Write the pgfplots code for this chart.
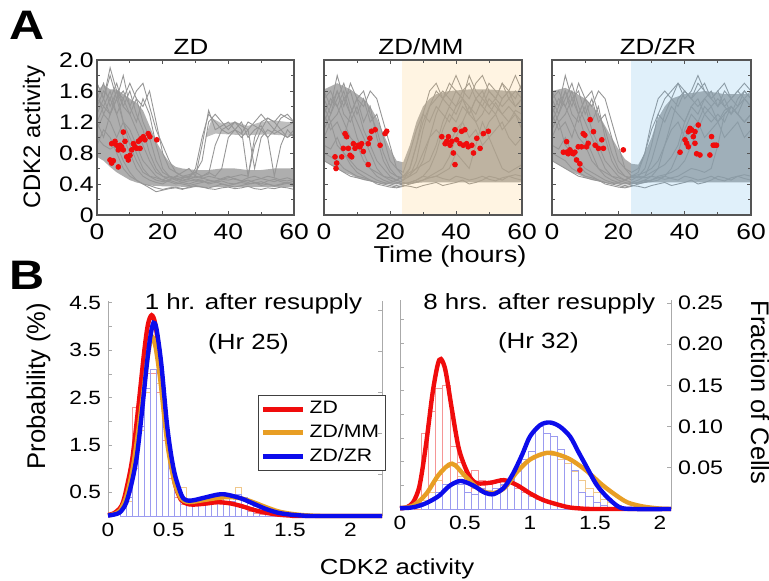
\documentclass[border=0pt]{standalone}
\usepackage{fontspec}
\setmainfont{Liberation Sans}[FakeStretch=1.18]
\newfontfamily\plainfont{Liberation Sans}
\usepackage{pgfplots}
\pgfplotsset{compat=1.18}

\definecolor{trace}{RGB}{150,150,150}
\definecolor{band}{RGB}{174,174,174}
\definecolor{cRed}{RGB}{240,12,12}
\definecolor{cOra}{RGB}{232,158,36}
\definecolor{cBlu}{RGB}{12,12,235}
\definecolor{hRed}{RGB}{245,150,150}
\definecolor{hOra}{RGB}{240,200,140}
\definecolor{hBlu}{RGB}{155,155,240}
\definecolor{frameA}{RGB}{85,85,85}
\definecolor{spineB}{RGB}{170,170,170}
\definecolor{shadeMM}{RGB}{255,200,110}
\definecolor{shadeZR}{RGB}{100,180,230}

\pgfplotsset{
  /pgf/number format/assume math mode=true,
  panelA/.style={
    scale only axis, height=77.5pt, anchor=south west,
    xmin=0, xmax=60, ymin=0, ymax=2,
    xtick={0,20,40,60}, minor xtick={10,30,50},
    ytick={0,0.4,0.8,1.2,1.6,2.0}, minor ytick={0.2,0.6,1.0,1.4,1.8},
    tick align=inside, major tick length=2.2pt, minor tick length=1.5pt,
    axis line style={frameA, line width=0.6pt},
    every tick/.style={frameA, line width=0.4pt},
    xticklabel style={font=\fontsize{11.2}{12}\selectfont, inner sep=1pt, yshift=-3pt},
    yticklabel style={font=\fontsize{10.5}{12}\selectfont, inner sep=1.5pt},
    xticklabels={0,20,40,60},
    yticklabels={},
    axis on top,
  },
  tr/.style={trace, line width=0.45pt},
  bandst/.style={draw=none, fill=band},
  dots/.style={only marks, mark=*, mark size=1.2pt, draw=cRed, fill=cRed},
  crv/.style={line width=2.2pt, smooth, tension=0.5},
  hist/.style={ybar interval, fill=none, line width=0.45pt, forget plot},
  panelB/.style={
    scale only axis, anchor=south west, clip=false,
    separate axis lines,
    every outer x axis line/.append style={draw=none},
    axis line style={spineB, line width=0.5pt},
    x tick style={draw=none},
    y tick style={spineB, line width=0.4pt},
    tick align=inside, major tick length=2.2pt, minor tick length=2.2pt,
    tick label style={font=\fontsize{9.6}{11}\selectfont},
    xtick={0,0.5,1,1.5,2}, xticklabels={0,0.5,1,1.5,2},
  },
}

\begin{document}
\begin{tikzpicture}
\path[use as bounding box] (0,0) rectangle (384.5pt,290.5pt);

% ================= PANEL A : ZD =================
\begin{axis}[panelA, at={(48.5pt,183pt)}, width=98.5pt,
  yticklabels={0,0.4,0.8,1.2,1.6,2.0}]
\addplot[bandst] coordinates {(0,1.6)(2,1.68)(4,1.62)(6,1.62)(8,1.56)(10,1.5)(12,1.45)(14,1.35)(16,1.15)(18,0.95)(20,0.8)(22,0.68)(24,0.62)(26,0.6)(30,0.58)(34,0.58)(38,0.6)(42,0.6)(46,0.58)(50,0.58)(54,0.6)(58,0.6)(60,0.6)(60,0.36)(50,0.36)(40,0.36)(30,0.36)(20,0.37)(16,0.38)(12,0.42)(10,0.45)(8,0.5)(6,0.55)(4,0.62)(2,0.7)(0,0.75)};
\addplot[draw=none, fill=band!80] coordinates {(33,1.0)(35,1.25)(38,1.18)(42,1.2)(46,1.15)(50,1.2)(54,1.22)(58,1.2)(60,1.2)(60,1.02)(52,1.04)(44,1.03)(36,1.05)};
\addplot[tr] coordinates {(0,1.5)(2,1.7)(4,1.4)(6,1.6)(8,1.2)(10,0.9)(12,0.7)(14,0.55)(16,0.5)(18,0.48)(20,0.45)(22,0.5)(24,0.47)(26,0.44)(28,0.46)(30,0.5)(32,0.48)(34,0.45)(36,0.43)(38,0.47)(40,0.5)(42,0.46)(44,0.44)(46,0.48)(48,0.5)(50,0.47)(52,0.45)(54,0.43)(56,0.46)(58,0.48)(60,0.45)};
\addplot[tr] coordinates {(0,1.3)(2,1.5)(4,1.8)(6,1.5)(8,1.6)(10,1.4)(12,1.2)(14,1.5)(16,1.3)(18,0.9)(20,0.6)(22,0.5)(24,0.45)(26,0.42)(28,0.4)(30,0.43)(32,0.45)(34,0.4)(36,0.42)(38,0.44)(40,0.41)(42,0.4)(44,0.43)(46,0.45)(48,0.42)(50,0.4)(52,0.44)(54,0.46)(56,0.43)(58,0.41)(60,0.44)};
\addplot[tr] coordinates {(0,1.2)(2,1.4)(4,1.6)(6,1.3)(8,1.0)(10,0.8)(12,0.6)(14,0.5)(16,0.45)(18,0.42)(20,0.4)(22,0.45)(24,0.5)(26,0.55)(28,0.6)(30,0.5)(32,0.9)(34,1.35)(36,1.1)(38,1.15)(40,1.2)(42,1.1)(44,1.05)(46,1.2)(48,1.15)(50,1.1)(52,1.25)(54,1.2)(56,1.1)(58,1.15)(60,1.2)};
\addplot[tr] coordinates {(0,1.6)(2,1.3)(4,1.5)(6,1.7)(8,1.4)(10,1.6)(12,1.3)(14,1.1)(16,0.8)(18,0.6)(20,0.5)(22,0.45)(24,0.42)(26,0.4)(28,0.38)(30,0.4)(32,0.42)(34,0.45)(36,0.43)(38,0.4)(40,0.38)(42,0.4)(44,0.42)(46,0.4)(48,0.41)(50,0.43)(52,0.4)(54,0.38)(56,0.4)(58,0.42)(60,0.4)};
\addplot[tr] coordinates {(0,1.0)(2,0.9)(4,0.85)(6,0.9)(8,0.7)(10,0.55)(12,0.45)(14,0.4)(16,0.38)(18,0.35)(20,0.33)(22,0.35)(24,0.36)(26,0.34)(28,0.35)(30,0.37)(32,0.36)(34,0.34)(36,0.33)(38,0.35)(40,0.36)(42,0.34)(44,0.35)(46,0.37)(48,0.34)(50,0.33)(52,0.35)(54,0.34)(56,0.36)(58,0.35)(60,0.33)};
\addplot[tr] coordinates {(0,1.4)(2,1.6)(4,1.5)(6,1.3)(8,1.5)(10,1.7)(12,1.5)(14,1.4)(16,1.6)(18,1.2)(20,0.8)(22,0.6)(24,0.55)(26,0.5)(28,0.52)(30,0.55)(32,0.5)(34,0.53)(36,0.9)(38,1.1)(40,1.05)(42,1.1)(44,1.0)(46,1.1)(48,0.6)(50,1.0)(52,1.1)(54,1.05)(56,1.1)(58,1.0)(60,1.05)};
\addplot[tr] coordinates {(0,1.7)(2,1.5)(4,1.9)(6,1.6)(8,1.4)(10,1.3)(12,1.5)(14,1.2)(16,1.0)(18,0.7)(20,0.55)(22,0.5)(24,0.48)(26,0.45)(28,0.47)(30,0.6)(32,1.0)(34,1.3)(36,1.2)(38,1.1)(40,1.15)(42,1.2)(44,1.1)(46,0.5)(48,1.0)(50,1.2)(52,1.25)(54,1.2)(56,1.3)(58,1.25)(60,1.2)};
\addplot[tr] coordinates {(0,1.1)(2,1.3)(4,1.2)(6,1.0)(8,1.2)(10,1.1)(12,0.9)(14,0.7)(16,0.6)(18,0.5)(20,0.45)(22,0.43)(24,0.4)(26,0.42)(28,0.44)(30,0.45)(32,0.43)(34,0.42)(36,0.44)(38,0.46)(40,0.48)(42,0.5)(44,0.52)(46,0.5)(48,0.9)(50,1.1)(52,1.0)(54,1.1)(56,1.05)(58,1.0)(60,1.1)};
\addplot[tr] coordinates {(0,1.5)(2,1.4)(4,1.3)(6,1.5)(8,1.8)(10,1.4)(12,1.6)(14,1.7)(16,1.4)(18,1.1)(20,0.9)(22,0.7)(24,0.55)(26,0.5)(28,0.48)(30,0.45)(32,0.47)(34,0.5)(36,0.48)(38,0.46)(40,0.45)(42,0.47)(44,0.44)(46,0.42)(48,0.45)(50,0.47)(52,0.5)(54,0.48)(56,0.45)(58,0.44)(60,0.46)};
\addplot[tr] coordinates {(0,0.9)(2,1.1)(4,1.0)(6,0.8)(8,0.6)(10,0.5)(12,0.45)(14,0.4)(16,0.35)(18,0.3)(20,0.32)(22,0.34)(24,0.35)(26,0.33)(28,0.36)(30,0.38)(32,0.36)(34,0.35)(36,0.37)(38,0.4)(40,0.38)(42,0.36)(44,0.38)(46,0.4)(48,0.42)(50,0.38)(52,0.4)(54,0.37)(56,0.39)(58,0.41)(60,0.38)};
\addplot[tr] coordinates {(0,1.2)(2,1.0)(4,1.3)(6,1.5)(8,1.2)(10,1.0)(12,0.8)(14,0.6)(16,0.5)(18,0.45)(20,0.43)(22,0.45)(24,0.5)(26,0.48)(28,0.5)(30,0.55)(32,0.7)(34,1.2)(36,1.3)(38,1.2)(40,1.1)(42,1.2)(44,1.15)(46,1.1)(48,1.2)(50,1.3)(52,1.2)(54,1.1)(56,1.25)(58,1.3)(60,1.2)};
\addplot[tr] coordinates {(0,1.7)(2,1.5)(4,1.3)(6,1.6)(8,1.5)(10,1.3)(12,1.1)(14,0.9)(16,0.7)(18,0.55)(20,0.5)(22,0.48)(24,0.45)(26,0.47)(28,0.5)(30,0.48)(32,0.5)(34,0.55)(36,0.5)(38,0.6)(40,1.0)(42,1.1)(44,1.2)(46,1.0)(48,1.1)(50,1.15)(52,1.0)(54,0.5)(56,0.9)(58,1.1)(60,1.0)};
\addplot[dots] coordinates {(3.96,0.71)(4.47,0.67)(4.97,0.70)(4.47,0.92)(5.48,0.95)(5.99,0.90)(6.5,0.84)(6.5,0.62)(7.0,0.90)(7.51,0.88)(8.02,0.84)(8.53,0.95)(8.02,1.07)(9.04,0.75)(9.54,0.71)(10.05,0.77)(10.56,0.84)(11.07,0.92)(11.57,0.88)(12.08,0.86)(12.59,0.95)(13.1,0.97)(13.6,0.99)(14.1,1.01)(14.6,0.97)(15.6,1.05)(16.1,1.01)(18.2,0.97)(13.1,0.86)};
\end{axis}

% ================= PANEL A : ZD/MM =================
\begin{axis}[panelA, at={(162pt,183pt)}, width=99pt]
\addplot[bandst] coordinates {(0,1.62)(2,1.66)(4,1.7)(6,1.66)(8,1.62)(10,1.56)(12,1.5)(14,1.4)(16,1.25)(18,1.05)(20,0.85)(22,0.7)(24,0.68)(26,0.9)(28,1.2)(30,1.4)(32,1.5)(34,1.56)(38,1.6)(44,1.62)(50,1.62)(56,1.6)(60,1.6)(60,0.42)(50,0.42)(40,0.42)(30,0.42)(24,0.4)(20,0.4)(16,0.42)(12,0.45)(10,0.48)(8,0.52)(6,0.55)(4,0.6)(2,0.65)(0,0.7)};
\addplot[tr] coordinates {(0,1.3)(2,1.5)(4,1.4)(6,1.6)(8,1.3)(10,1.0)(12,0.8)(14,0.6)(16,0.5)(18,0.45)(20,0.42)(22,0.4)(24,0.45)(26,0.6)(28,0.9)(30,1.2)(32,1.4)(34,1.5)(36,1.6)(38,1.5)(40,1.4)(42,1.6)(44,1.7)(46,1.5)(48,1.4)(50,1.6)(52,1.5)(54,1.4)(56,1.5)(58,1.6)(60,1.5)};
\addplot[tr] coordinates {(0,1.5)(2,1.3)(4,1.6)(6,1.4)(8,1.7)(10,1.5)(12,1.2)(14,1.4)(16,1.0)(18,0.7)(20,0.55)(22,0.5)(24,0.48)(26,0.5)(28,0.55)(30,0.7)(32,1.0)(34,1.3)(36,1.5)(38,1.4)(40,1.6)(42,1.5)(44,1.3)(46,1.5)(48,1.6)(50,1.4)(52,1.5)(54,1.7)(56,1.5)(58,1.4)(60,1.5)};
\addplot[tr] coordinates {(0,1.0)(2,1.2)(4,0.9)(6,0.8)(8,0.7)(10,0.6)(12,0.55)(14,0.5)(16,0.45)(18,0.42)(20,0.4)(22,0.38)(24,0.4)(26,0.42)(28,0.45)(30,0.5)(32,0.6)(34,0.8)(36,1.1)(38,1.3)(40,1.2)(42,1.4)(44,1.3)(46,1.5)(48,1.4)(50,1.3)(52,1.45)(54,1.3)(56,1.2)(58,1.35)(60,1.3)};
\addplot[tr] coordinates {(0,1.6)(2,1.4)(4,1.8)(6,1.5)(8,1.3)(10,1.5)(12,1.6)(14,1.3)(16,1.1)(18,0.8)(20,0.6)(22,0.5)(24,0.45)(26,0.5)(28,0.7)(30,1.1)(32,1.4)(34,1.6)(36,1.5)(38,1.7)(40,1.6)(42,1.5)(44,1.8)(46,1.6)(48,1.5)(50,1.7)(52,1.6)(54,1.5)(56,1.6)(58,1.8)(60,1.6)};
\addplot[tr] coordinates {(0,0.8)(2,0.75)(4,0.7)(6,0.6)(8,0.55)(10,0.5)(12,0.48)(14,0.45)(16,0.42)(18,0.4)(20,0.42)(22,0.45)(24,0.42)(26,0.4)(28,0.43)(30,0.45)(32,0.48)(34,0.5)(36,0.47)(38,0.45)(40,0.5)(42,0.48)(44,0.45)(46,0.47)(48,0.5)(50,0.46)(52,0.44)(54,0.48)(56,0.5)(58,0.47)(60,0.45)};
\addplot[tr] coordinates {(0,1.2)(2,1.4)(4,1.6)(6,1.3)(8,1.2)(10,1.4)(12,1.1)(14,0.9)(16,0.7)(18,0.6)(20,0.5)(22,0.45)(24,0.5)(26,0.55)(28,0.6)(30,0.65)(32,0.7)(34,0.9)(36,1.2)(38,1.4)(40,1.3)(42,1.5)(44,1.4)(46,1.2)(48,1.3)(50,1.5)(52,1.4)(54,1.3)(56,1.4)(58,1.3)(60,1.2)};
\addplot[tr] coordinates {(0,1.4)(2,1.2)(4,1.3)(6,1.5)(8,1.6)(10,1.3)(12,1.5)(14,1.2)(16,1.3)(18,1.0)(20,0.7)(22,0.6)(24,0.55)(26,0.8)(28,1.1)(30,1.3)(32,1.2)(34,1.4)(36,1.3)(38,1.2)(40,1.4)(42,1.5)(44,1.3)(46,1.2)(48,1.0)(50,1.2)(52,1.3)(54,1.1)(56,1.2)(58,1.3)(60,1.1)};
\addplot[tr] coordinates {(0,0.9)(2,0.85)(4,1.0)(6,0.8)(8,0.65)(10,0.55)(12,0.5)(14,0.45)(16,0.4)(18,0.38)(20,0.36)(22,0.35)(24,0.37)(26,0.4)(28,0.42)(30,0.45)(32,0.5)(34,0.55)(36,0.6)(38,0.75)(40,1.0)(42,1.2)(44,1.4)(46,1.3)(48,1.5)(50,1.4)(52,1.3)(54,1.5)(56,1.6)(58,1.4)(60,1.5)};
\addplot[tr] coordinates {(0,1.1)(2,1.3)(4,1.5)(6,1.7)(8,1.4)(10,1.2)(12,1.0)(14,0.8)(16,0.6)(18,0.5)(20,0.48)(22,0.45)(24,0.5)(26,0.6)(28,0.9)(30,1.3)(32,1.6)(34,1.7)(36,1.5)(38,1.6)(40,1.8)(42,1.6)(44,1.5)(46,1.7)(48,1.8)(50,1.6)(52,1.5)(54,1.7)(56,1.6)(58,1.5)(60,1.7)};
\addplot[tr] coordinates {(0,1.5)(2,1.6)(4,1.4)(6,1.2)(8,1.0)(10,0.9)(12,0.7)(14,0.6)(16,0.55)(18,0.5)(20,0.45)(22,0.42)(24,0.4)(26,0.42)(28,0.45)(30,0.5)(32,0.48)(34,0.5)(36,0.55)(38,0.6)(40,0.8)(42,0.7)(44,0.6)(46,0.9)(48,1.2)(50,1.0)(52,0.8)(54,0.6)(56,0.55)(58,0.6)(60,0.65)};
\addplot[tr] coordinates {(0,1.3)(2,1.1)(4,1.2)(6,1.0)(8,1.3)(10,1.5)(12,1.4)(14,1.6)(16,1.5)(18,1.2)(20,0.9)(22,0.6)(24,0.5)(26,0.52)(28,0.6)(30,0.8)(32,1.0)(34,1.1)(36,1.0)(38,0.9)(40,1.1)(42,1.2)(44,1.0)(46,1.1)(48,0.9)(50,1.0)(52,1.1)(54,1.2)(56,1.0)(58,0.9)(60,1.0)};
\addplot[tr] coordinates {(0,0.7)(2,0.65)(4,0.6)(6,0.55)(8,0.5)(10,0.48)(12,0.46)(14,0.44)(16,0.42)(18,0.4)(20,0.38)(22,0.36)(24,0.38)(26,0.37)(28,0.35)(30,0.38)(32,0.4)(34,0.42)(36,0.38)(38,0.4)(40,0.42)(42,0.45)(44,0.4)(46,0.42)(48,0.45)(50,0.5)(52,0.48)(54,0.45)(56,0.5)(58,0.52)(60,0.5)};
\addplot[draw=none, fill=shadeMM, fill opacity=0.2] coordinates {(23.5,0)(23.5,2)(60,2)(60,0)};
\addplot[dots] coordinates {(3.34,0.75)(3.64,0.60)(3.84,0.67)(5.36,0.75)(5.86,0.86)(6.37,1.05)(6.87,1.01)(7.38,0.86)(7.88,0.77)(8.39,0.75)(8.89,0.92)(9.40,0.86)(10.4,0.90)(10.9,0.88)(11.4,0.92)(11.9,0.82)(13.4,0.92)(13.9,0.99)(14.4,1.08)(15.5,1.10)(17.0,0.90)(18.5,1.05)(19.0,1.08)(13.4,0.65)
(35.7,1.01)(36.7,0.92)(37.2,0.95)(37.7,1.01)(38.2,0.90)(38.7,0.95)(39.2,0.80)(39.7,1.10)(40.2,0.97)(41.2,0.92)(41.7,1.08)(42.2,0.90)(42.7,1.10)(43.2,0.92)(43.7,0.88)(44.8,0.90)(45.3,0.80)(46.3,0.99)(47.3,0.86)(48.3,1.05)(49.8,1.08)(39.7,0.65)};
\end{axis}

% ================= PANEL A : ZD/ZR =================
\begin{axis}[panelA, at={(276pt,183pt)}, width=99.5pt]
\addplot[bandst] coordinates {(0,1.6)(2,1.62)(4,1.64)(6,1.6)(8,1.55)(10,1.5)(12,1.42)(14,1.3)(16,1.15)(18,1.0)(20,0.85)(22,0.72)(24,0.66)(26,0.65)(28,0.8)(30,1.0)(32,1.25)(34,1.4)(36,1.5)(40,1.56)(46,1.6)(52,1.56)(56,1.56)(60,1.56)(60,0.42)(50,0.42)(40,0.42)(30,0.42)(24,0.4)(20,0.4)(16,0.42)(12,0.45)(10,0.48)(8,0.52)(6,0.55)(4,0.6)(2,0.65)(0,0.7)};
\addplot[tr] coordinates {(0,1.3)(2,1.5)(4,1.4)(6,1.6)(8,1.3)(10,1.0)(12,0.8)(14,0.6)(16,0.5)(18,0.45)(20,0.42)(22,0.4)(24,0.42)(26,0.45)(28,0.5)(30,0.7)(32,1.0)(34,1.3)(36,1.5)(38,1.4)(40,1.6)(42,1.5)(44,1.4)(46,1.5)(48,1.6)(50,1.4)(52,1.5)(54,1.3)(56,1.4)(58,1.5)(60,1.4)};
\addplot[tr] coordinates {(0,1.5)(2,1.3)(4,1.6)(6,1.4)(8,1.7)(10,1.5)(12,1.2)(14,1.4)(16,1.0)(18,0.7)(20,0.55)(22,0.5)(24,0.48)(26,0.5)(28,0.48)(30,0.5)(32,0.6)(34,0.9)(36,1.2)(38,1.5)(40,1.6)(42,1.5)(44,1.7)(46,1.6)(48,1.5)(50,1.4)(52,1.6)(54,1.5)(56,1.4)(58,1.6)(60,1.5)};
\addplot[tr] coordinates {(0,1.0)(2,1.2)(4,0.9)(6,0.8)(8,0.7)(10,0.6)(12,0.55)(14,0.5)(16,0.45)(18,0.42)(20,0.4)(22,0.38)(24,0.4)(26,0.42)(28,0.45)(30,0.43)(32,0.45)(34,0.5)(36,0.6)(38,0.8)(40,1.1)(42,1.3)(44,1.2)(46,1.4)(48,1.3)(50,1.2)(52,1.35)(54,1.4)(56,1.3)(58,1.2)(60,1.3)};
\addplot[tr] coordinates {(0,1.6)(2,1.4)(4,1.8)(6,1.5)(8,1.3)(10,1.5)(12,1.6)(14,1.3)(16,1.1)(18,0.8)(20,0.6)(22,0.5)(24,0.45)(26,0.5)(28,0.6)(30,0.9)(32,1.3)(34,1.5)(36,1.6)(38,1.7)(40,1.5)(42,1.6)(44,1.8)(46,1.6)(48,1.5)(50,1.6)(52,1.7)(54,1.5)(56,1.6)(58,1.7)(60,1.6)};
\addplot[tr] coordinates {(0,0.8)(2,0.75)(4,0.7)(6,0.6)(8,0.55)(10,0.5)(12,0.48)(14,0.45)(16,0.42)(18,0.4)(20,0.42)(22,0.45)(24,0.42)(26,0.4)(28,0.43)(30,0.45)(32,0.48)(34,0.5)(36,0.47)(38,0.45)(40,0.5)(42,0.48)(44,0.45)(46,0.47)(48,0.5)(50,0.46)(52,0.44)(54,0.48)(56,0.5)(58,0.47)(60,0.45)};
\addplot[tr] coordinates {(0,1.2)(2,1.4)(4,1.6)(6,1.3)(8,1.2)(10,1.4)(12,1.1)(14,0.9)(16,0.7)(18,0.6)(20,0.5)(22,0.45)(24,0.5)(26,0.48)(28,0.5)(30,0.55)(32,0.6)(34,0.65)(36,0.75)(38,0.9)(40,1.2)(42,1.4)(44,1.3)(46,1.5)(48,1.4)(50,1.2)(52,1.3)(54,1.4)(56,1.3)(58,1.2)(60,1.3)};
\addplot[tr] coordinates {(0,1.4)(2,1.2)(4,1.3)(6,1.5)(8,1.6)(10,1.3)(12,1.5)(14,1.2)(16,1.3)(18,1.0)(20,0.7)(22,0.6)(24,0.55)(26,0.6)(28,0.8)(30,1.1)(32,1.3)(34,1.2)(36,1.4)(38,1.3)(40,1.2)(42,1.4)(44,1.5)(46,1.3)(48,1.2)(50,1.3)(52,1.2)(54,1.4)(56,1.3)(58,1.2)(60,1.3)};
\addplot[tr] coordinates {(0,0.9)(2,0.85)(4,1.0)(6,0.8)(8,0.65)(10,0.55)(12,0.5)(14,0.45)(16,0.4)(18,0.38)(20,0.36)(22,0.35)(24,0.37)(26,0.4)(28,0.42)(30,0.45)(32,0.5)(34,0.52)(36,0.55)(38,0.6)(40,0.7)(42,0.9)(44,1.1)(46,1.3)(48,1.4)(50,1.5)(52,1.4)(54,1.3)(56,1.5)(58,1.6)(60,1.5)};
\addplot[tr] coordinates {(0,1.1)(2,1.3)(4,1.5)(6,1.7)(8,1.4)(10,1.2)(12,1.0)(14,0.8)(16,0.6)(18,0.5)(20,0.48)(22,0.45)(24,0.5)(26,0.55)(28,0.8)(30,1.2)(32,1.5)(34,1.6)(36,1.5)(38,1.7)(40,1.6)(42,1.5)(44,1.6)(46,1.7)(48,1.5)(50,1.6)(52,1.4)(54,1.5)(56,1.6)(58,1.5)(60,1.6)};
\addplot[tr] coordinates {(0,1.5)(2,1.6)(4,1.4)(6,1.2)(8,1.0)(10,0.9)(12,0.7)(14,0.6)(16,0.55)(18,0.5)(20,0.45)(22,0.42)(24,0.4)(26,0.42)(28,0.45)(30,0.5)(32,0.48)(34,0.46)(36,0.48)(38,0.5)(40,0.55)(42,0.6)(44,0.58)(46,0.55)(48,0.6)(50,0.9)(52,1.3)(54,1.4)(56,1.3)(58,1.5)(60,1.4)};
\addplot[tr] coordinates {(0,1.3)(2,1.1)(4,1.2)(6,1.0)(8,1.3)(10,1.5)(12,1.4)(14,1.6)(16,1.5)(18,1.2)(20,0.9)(22,0.6)(24,0.5)(26,0.52)(28,0.55)(30,0.6)(32,0.7)(34,0.9)(36,1.1)(38,1.2)(40,1.0)(42,1.1)(44,1.2)(46,1.0)(48,1.1)(50,1.2)(52,1.0)(54,1.1)(56,1.2)(58,1.0)(60,1.1)};
\addplot[tr] coordinates {(0,0.7)(2,0.65)(4,0.6)(6,0.55)(8,0.5)(10,0.48)(12,0.46)(14,0.44)(16,0.42)(18,0.4)(20,0.38)(22,0.36)(24,0.38)(26,0.37)(28,0.35)(30,0.38)(32,0.4)(34,0.42)(36,0.38)(38,0.4)(40,0.42)(42,0.45)(44,0.4)(46,0.42)(48,0.45)(50,0.5)(52,0.48)(54,0.45)(56,0.5)(58,0.52)(60,0.5)};
\addplot[draw=none, fill=shadeZR, fill opacity=0.2] coordinates {(23.8,0)(23.8,2)(60,2)(60,0)};
\addplot[dots] coordinates {(3.42,0.81)(4.4,0.81)(4.9,0.79)(5.4,0.84)(5.9,0.81)(6.4,0.79)(6.9,0.81)(7.4,0.71)(7.9,0.88)(8.4,0.58)(8.9,0.88)(9.4,1.05)(9.9,1.03)(10.4,0.88)(10.9,0.925)(11.5,1.23)(12.5,1.075)(13.0,0.90)(14.0,0.86)(15.0,0.97)(15.5,0.86)(21.5,0.84)(8.4,0.66)(4.4,0.946)
(38.6,0.81)(40.1,0.97)(40.6,0.925)(41.1,1.075)(41.6,1.118)(42.1,1.097)(42.6,1.011)(43.1,1.075)(43.6,0.79)(44.1,1.161)(44.6,0.774)(43.1,0.925)(48.1,1.011)(48.6,0.90)(49.1,0.90)(49.6,0.90)(47.6,0.774)(41.1,0.88)};
\end{axis}

% ================= PANEL B : left (Hr 25) =================
\begin{axis}[panelB, at={(54pt,32.5pt)}, width=137pt, height=107.5pt,
  xmin=0, xmax=2.26, ymin=0, ymax=4.54,
  ytick={0.5,1.5,2.5,3.5,4.5}, yticklabels={0.5,1.5,2.5,3.5,4.5},
  minor ytick={1,2,3,4}, ytick pos=left,
  legend style={at={(0.547,0.563)}, anchor=north west, draw=black!75, line width=0.5pt,
    font=\fontsize{9}{10}\selectfont, inner sep=1pt, row sep=0pt, fill=white},
  legend cell align=left,
  legend image code/.code={\draw[#1, line width=2.6pt] (0pt,0pt) -- (20pt,0pt);},
]
\addplot[hist, hRed] coordinates {(0.15,0.5)(0.2,2.3)(0.25,2.6)(0.3,3.0)(0.35,3.0)(0.4,2.6)(0.45,1.6)(0.5,0.8)(0.55,0.4)(0.6,0.25)(0.65,0.22)(0.7,0.25)(0.75,0.28)(0.8,0.3)(0.85,0.28)(0.9,0.3)(0.95,0.27)(1.0,0.25)(1.05,0.2)(1.1,0.15)(1.15,0.1)(1.2,0.06)(1.25,0.03)(1.3,0)};
\addplot[hist, hOra] coordinates {(0.15,0.3)(0.2,1.0)(0.25,1.8)(0.3,2.6)(0.35,3.1)(0.4,2.8)(0.45,1.9)(0.5,1.0)(0.55,0.5)(0.6,0.6)(0.65,0.3)(0.7,0.3)(0.75,0.35)(0.8,0.35)(0.85,0.4)(0.9,0.35)(0.95,0.4)(1.0,0.45)(1.05,0.6)(1.1,0.4)(1.15,0.3)(1.2,0.2)(1.25,0.15)(1.3,0.1)(1.35,0.05)(1.4,0)};
\addplot[hist, hBlu] coordinates {(0.1,0.15)(0.15,0.4)(0.2,1.25)(0.25,1.9)(0.3,2.7)(0.35,3.1)(0.4,3.0)(0.45,1.9)(0.5,1.0)(0.55,0.5)(0.6,0.3)(0.65,0.3)(0.7,0.3)(0.75,0.35)(0.8,0.4)(0.85,0.35)(0.9,0.4)(0.95,0.45)(1.0,0.3)(1.05,0.45)(1.1,0.4)(1.15,0.3)(1.2,0.2)(1.25,0.15)(1.3,0.1)(1.35,0.08)(1.4,0.05)(1.45,0.03)(1.5,0)};
\addplot[crv, cRed] coordinates {(0,0.02)(0.05,0.06)(0.1,0.17)(0.125,0.3)(0.15,0.55)(0.2,1.2)(0.25,2.3)(0.3,3.5)(0.33,4.05)(0.36,4.24)(0.39,4.05)(0.43,3.3)(0.47,2.2)(0.5,1.45)(0.55,0.7)(0.6,0.35)(0.65,0.26)(0.7,0.24)(0.8,0.26)(0.9,0.29)(1.0,0.27)(1.1,0.21)(1.2,0.13)(1.3,0.07)(1.4,0.03)(1.5,0.01)(1.6,0)(2.26,0)};
\addlegendentry{ZD}
\addplot[crv, cOra] coordinates {(0,0.01)(0.05,0.04)(0.1,0.12)(0.15,0.4)(0.2,0.95)(0.25,1.8)(0.3,2.8)(0.33,3.4)(0.36,3.78)(0.39,3.6)(0.43,2.9)(0.47,1.95)(0.5,1.35)(0.55,0.7)(0.6,0.38)(0.65,0.3)(0.7,0.3)(0.8,0.34)(0.9,0.38)(1.0,0.4)(1.1,0.37)(1.2,0.29)(1.3,0.19)(1.4,0.1)(1.5,0.05)(1.6,0.02)(1.7,0.005)(1.8,0)(2.26,0)};
\addlegendentry{ZD/MM}
\addplot[crv, cBlu] coordinates {(0,0.01)(0.05,0.03)(0.1,0.08)(0.15,0.28)(0.2,0.75)(0.24,1.3)(0.28,2.2)(0.32,3.2)(0.35,3.8)(0.375,4.08)(0.4,3.95)(0.44,3.2)(0.485,1.97)(0.52,1.3)(0.555,0.84)(0.61,0.42)(0.65,0.33)(0.7,0.33)(0.8,0.39)(0.9,0.45)(0.95,0.46)(1.0,0.44)(1.1,0.37)(1.2,0.26)(1.3,0.15)(1.4,0.07)(1.5,0.03)(1.6,0.01)(1.7,0)(2.26,0)};
\addlegendentry{ZD/ZR}
\end{axis}
% right-side ticks (fraction scale) of left panel
\begin{axis}[scale only axis, anchor=south west, at={(54pt,32.5pt)}, width=137pt, height=107.5pt,
  xmin=0, xmax=2.26, ymin=0, ymax=0.261, axis line style={draw=none},
  xtick=\empty, ytick={0.05,0.1,0.15,0.2,0.25}, yticklabels={}, ytick pos=right,
  tick align=inside, major tick length=2.2pt, y tick style={spineB, line width=0.4pt}]
\addplot[draw=none] coordinates {(0,0)};
\end{axis}

% ================= PANEL B : right (Hr 32) =================
\begin{axis}[panelB, at={(200pt,36pt)}, width=135.5pt, height=104.5pt,
  xmin=0, xmax=2.085, ymin=0, ymax=0.2536,
  ytick={0.05,0.1,0.15,0.2,0.25}, yticklabels={0.05,0.10,0.15,0.20,0.25},
  ytick pos=right, yticklabel pos=right,
  yticklabel style={font=\fontsize{9.8}{11}\selectfont},
]
\addplot[hist, hOra] coordinates {(0.165,0.01)(0.22,0.02)(0.275,0.035)(0.33,0.05)(0.385,0.055)(0.44,0.04)(0.495,0.03)(0.55,0.025)(0.605,0.02)(0.66,0.022)(0.715,0.02)(0.77,0.03)(0.825,0.035)(0.88,0.045)(0.935,0.055)(0.99,0.06)(1.045,0.065)(1.1,0.07)(1.155,0.065)(1.21,0.06)(1.265,0.055)(1.32,0.045)(1.375,0.035)(1.43,0.025)(1.485,0.02)(1.54,0.012)(1.595,0.008)(1.65,0.004)(1.705,0)};
\addplot[hist, hRed] coordinates {(0.11,0.01)(0.165,0.092)(0.22,0.118)(0.275,0.146)(0.33,0.15)(0.385,0.076)(0.44,0.057)(0.495,0.04)(0.55,0.047)(0.605,0.035)(0.66,0.03)(0.715,0.033)(0.77,0.028)(0.825,0.035)(0.88,0.025)(0.935,0.02)(0.99,0.015)(1.045,0.012)(1.1,0.008)(1.155,0.005)(1.21,0.003)(1.265,0)};
\addplot[hist, hBlu] coordinates {(0.165,0.005)(0.22,0.01)(0.275,0.02)(0.33,0.03)(0.385,0.03)(0.44,0.03)(0.495,0.02)(0.55,0.018)(0.605,0.025)(0.66,0.02)(0.715,0.025)(0.77,0.03)(0.825,0.035)(0.88,0.05)(0.935,0.06)(0.99,0.07)(1.045,0.1)(1.1,0.092)(1.155,0.088)(1.21,0.072)(1.265,0.06)(1.32,0.047)(1.375,0.02)(1.43,0.015)(1.485,0.008)(1.54,0.004)(1.595,0)};
\addplot[crv, cRed] coordinates {(0,0.001)(0.05,0.002)(0.1,0.008)(0.15,0.028)(0.2,0.078)(0.25,0.14)(0.29,0.175)(0.315,0.182)(0.35,0.168)(0.4,0.12)(0.45,0.075)(0.5,0.051)(0.55,0.036)(0.6,0.031)(0.7,0.032)(0.8,0.035)(0.9,0.029)(1.0,0.019)(1.1,0.011)(1.2,0.006)(1.3,0.002)(1.4,0.0005)(1.5,0)(2.085,0)};
\addplot[crv, cOra] coordinates {(0,0.001)(0.1,0.004)(0.2,0.018)(0.3,0.042)(0.4,0.055)(0.5,0.04)(0.6,0.025)(0.7,0.019)(0.8,0.025)(0.9,0.045)(1.0,0.06)(1.1,0.067)(1.17,0.068)(1.3,0.061)(1.43,0.047)(1.55,0.03)(1.65,0.018)(1.75,0.008)(1.87,0.003)(2.0,0.0005)(2.085,0)};
\addplot[crv, cBlu] coordinates {(0,0.001)(0.1,0.002)(0.2,0.007)(0.3,0.016)(0.38,0.028)(0.46,0.034)(0.53,0.031)(0.59,0.026)(0.65,0.02)(0.72,0.018)(0.8,0.026)(0.87,0.043)(0.94,0.066)(1.0,0.088)(1.08,0.102)(1.154,0.105)(1.23,0.1)(1.308,0.088)(1.37,0.07)(1.436,0.051)(1.51,0.03)(1.59,0.015)(1.69,0.002)(1.8,0)(2.085,0)};
\end{axis}
% left-side ticks (percent scale) of right panel
\begin{axis}[scale only axis, anchor=south west, at={(200pt,36pt)}, width=135.5pt, height=104.5pt,
  xmin=0, xmax=2.085, ymin=0, ymax=4.416, axis line style={draw=none},
  xtick=\empty, ytick={0.5,1,1.5,2,2.5,3,3.5,4}, yticklabels={}, ytick pos=left,
  tick align=inside, major tick length=2.2pt, y tick style={spineB, line width=0.4pt}]
\addplot[draw=none] coordinates {(0,0)};
\end{axis}

% ================= TEXT =================
\node[anchor=base, font=\fontsize{20.6}{22}\selectfont\bfseries] at (13.75pt,270.5pt) {A};
\node[anchor=base, font=\fontsize{20.6}{22}\selectfont\bfseries] at (13.5pt,145.5pt) {B};
\node[anchor=base, font=\fontsize{11}{12}\selectfont] at (95.5pt,263.2pt) {ZD};
\node[anchor=base, font=\fontsize{11}{12}\selectfont] at (210.5pt,263.2pt) {ZD/MM};
\node[anchor=base, font=\fontsize{11}{12}\selectfont] at (329pt,263.2pt) {ZD/ZR};
\node[anchor=base, rotate=90, font=\plainfont\fontsize{11.9}{13}\selectfont] at (20pt,222pt) {CDK2 activity};
\node[anchor=base, font=\fontsize{11.5}{12}\selectfont] at (225pt,159.2pt) {Time (hours)};
\node[anchor=base, font=\fontsize{11}{12}\selectfont] at (126.75pt,135.5pt) {1 hr. after resupply};
\node[anchor=base, font=\fontsize{11}{12}\selectfont] at (124.25pt,115.5pt) {(Hr 25)};
\node[anchor=base, font=\fontsize{11}{12}\selectfont] at (269.6pt,135.5pt) {8 hrs. after resupply};
\node[anchor=base, font=\fontsize{11}{12}\selectfont] at (269.2pt,116pt) {(Hr 32)};
\node[anchor=base, rotate=90, font=\plainfont\fontsize{12.8}{14}\selectfont] at (22.5pt,97.5pt) {Probability (\%)};
\node[anchor=base, rotate=-90, font=\plainfont\fontsize{12.7}{14}\selectfont] at (375.5pt,94.25pt) {Fraction of Cells};
\node[anchor=base, font=\fontsize{10.9}{12}\selectfont] at (198.5pt,3pt) {CDK2 activity};
\end{tikzpicture}
\end{document}
